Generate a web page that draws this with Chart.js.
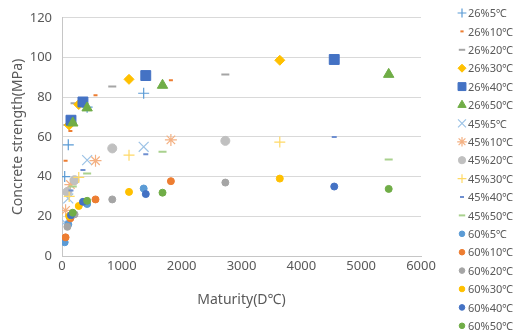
<!DOCTYPE html>
<html>
<head>
<meta charset="utf-8">
<script src="https://cdn.jsdelivr.net/npm/chart.js@4.4.1/dist/chart.umd.min.js"></script>
<style>
  html, body { margin: 0; padding: 0; background: #fff; }
</style>
</head>
<body>
<canvas id="chart" width="516" height="334"></canvas>
<script>
// Maturity (D°C), one list per curing temperature
const maturity5 = [45, 105, 420, 1365];
const maturity10 = [60, 140, 560, 1820];
const maturity20 = [90, 210, 840, 2730];
const maturity30 = [120, 280, 1120, 3640];
const maturity40 = [150, 350, 1400, 4550];
const maturity50 = [180, 420, 1680, 5460];

// Concrete strength (MPa), 26% group
const s26_5 = [40, 56, 75, 82];
const s26_10 = [48, 63, 81, 88.5];
const s26_20 = [66, 77, 85.4, 91.4];
const s26_30 = [66, 76.3, 89, 98.6];
const s26_40 = [68.4, 77.6, 90.9, 99];
const s26_50 = [67, 74.6, 86, 91.5];

// 45% group
const s45_5 = [17, 29, 48.3, 55];
const s45_10 = [23, 36, 48, 58.5];
const s45_20 = [32.3, 38.2, 54.2, 58];
const s45_30 = [30, 39.6, 50.8, 57.4];
const s45_40 = [33, 43.3, 51.3, 60];
const s45_50 = [35, 41.6, 52.5, 48.6];

// 60% group
const s60_5 = [6.9, 16, 26.2, 34];
const s60_10 = [9.4, 19, 28.5, 37.7];
const s60_20 = [14.7, 21, 28.5, 37];
const s60_30 = [20, 25.2, 32.3, 39];
const s60_40 = [20.5, 27.3, 31.2, 35];
const s60_50 = [21.8, 27.8, 31.9, 33.8];

const seriesNames = [
    '26%5℃', '26%10℃', '26%20℃', '26%30℃', '26%40℃', '26%50℃',
    '45%5℃', '45%10℃', '45%20℃', '45%30℃', '45%40℃', '45%50℃',
    '60%5℃', '60%10℃', '60%20℃', '60%30℃', '60%40℃', '60%50℃'
];
const xTicks = [0, 1000, 2000, 3000, 4000, 5000, 6000];
const yTicks = [0, 20, 40, 60, 80, 100, 120];

const seriesX = [maturity5, maturity10, maturity20, maturity30, maturity40, maturity50];
const seriesY = [
    s26_5, s26_10, s26_20, s26_30, s26_40, s26_50,
    s45_5, s45_10, s45_20, s45_30, s45_40, s45_50,
    s60_5, s60_10, s60_20, s60_30, s60_40, s60_50
];

// marker look for every series: style, radius, colour, line width
const markers = [
    ['cross', 5.5, '#5B9BD5', 1.2],
    ['line', 2, '#ED7D31', 2],
    ['line', 4, '#A5A5A5', 2],
    ['rectRot', 5, '#FFC000', 1],
    ['rect', 7, '#4472C4', 1],
    ['triangle', 6, '#70AD47', 1],
    ['crossRot', 7, '#9DC3E6', 1.2],
    ['star', 6, '#F4B183', 1.2],
    ['circle', 4.5, '#C0C0C0', 1],
    ['cross', 5.5, '#FFD966', 1.2],
    ['line', 2.5, '#6F8FD0', 2],
    ['line', 4, '#A9D18E', 2],
    ['circle', 3.5, '#5B9BD5', 1],
    ['circle', 3.5, '#ED7D31', 1],
    ['circle', 3.5, '#A5A5A5', 1],
    ['circle', 3.5, '#FFC000', 1],
    ['circle', 3.5, '#4472C4', 1],
    ['circle', 3.5, '#70AD47', 1]
];

const textColor = '#595959';
const fontName = '"Noto Sans", "Open Sans", sans-serif';

let datasets = [];
for (let i = 0; i < seriesY.length; i++) {
    let xs = seriesX[i % 6];
    let points = seriesY[i].map(function(v, k) {
        return {x: xs[k], y: v};
    });
    let m = markers[i];
    datasets.push({
        label: seriesNames[i],
        data: points,
        pointStyle: m[0],
        pointRadius: m[1],
        pointHoverRadius: m[1],
        backgroundColor: m[2],
        borderColor: m[2],
        pointBorderWidth: m[3],
        borderWidth: m[3],
        showLine: false,
        order: seriesY.length - i   // later series drawn on top, like the original
    });
}

// Legend on the right, one column drawn with the library's own point helper
const sideLegend = {
    id: 'sideLegend',
    afterDraw(chart) {
        const ctx = chart.ctx;
        ctx.save();
        ctx.font = '11px ' + fontName;
        ctx.textBaseline = 'middle';
        ctx.textAlign = 'left';
        chart.data.datasets.forEach(function(ds, i) {
            let y = 13 + i * 18.4;
            ctx.fillStyle = ds.backgroundColor;
            ctx.strokeStyle = ds.borderColor;
            ctx.lineWidth = ds.pointBorderWidth;
            Chart.helpers.drawPoint(ctx, {
                pointStyle: ds.pointStyle,
                radius: ds.pointRadius * 0.8,
                borderWidth: ds.pointBorderWidth,
                rotation: 0
            }, 462, y);
            ctx.fillStyle = textColor;
            ctx.fillText(ds.label, 468, y + 1);
        });
        ctx.restore();
    }
};

const config = {
    type: 'scatter',
    data: {datasets: datasets},
    options: {
        responsive: false,
        animation: false,
        layout: {padding: {top: 17, right: 95, bottom: 22, left: 0}},
        plugins: {
            legend: {display: false},
            tooltip: {enabled: false}
        },
        scales: {
            x: {
                type: 'linear',
                min: 0,
                max: 6000,
                afterBuildTicks: function(scale) {
                    scale.ticks = xTicks.map(v => ({value: v}));
                },
                afterFit: function(scale) { scale.height = 56; },
                ticks: {
                    color: textColor,
                    font: {size: 13, family: fontName},
                    padding: 2,
                    callback: function(value) { return String(value); }
                },
                grid: {display: false, drawTicks: false},
                border: {color: '#C6C6C6'},
                title: {
                    display: true,
                    text: 'Maturity(D℃)',
                    color: textColor,
                    font: {size: 14, family: fontName},
                    padding: {top: 4, bottom: 4}
                }
            },
            y: {
                type: 'linear',
                min: 0,
                max: 120,
                afterBuildTicks: function(scale) {
                    scale.ticks = yTicks.map(v => ({value: v}));
                },
                afterFit: function(scale) { scale.width = 62; },
                ticks: {color: textColor, font: {size: 13, family: fontName}, padding: 10},
                grid: {color: '#D9D9D9', drawTicks: false},
                border: {color: '#C6C6C6'},
                title: {
                    display: true,
                    text: 'Concrete strength(MPa)',
                    color: textColor,
                    font: {size: 14, family: fontName},
                    padding: {top: 10, bottom: 0}
                }
            }
        }
    },
    plugins: [sideLegend]
};

let context = document.getElementById('chart').getContext('2d');
new Chart(context, config);
</script>
</body>
</html>
